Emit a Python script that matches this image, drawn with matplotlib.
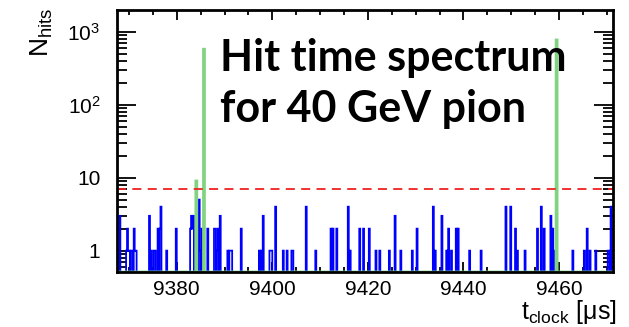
import numpy as np
import matplotlib
matplotlib.use("Agg")
import matplotlib.pyplot as plt
from matplotlib.ticker import FixedLocator, FixedFormatter, MultipleLocator, LogLocator, NullFormatter

# ---- data ----
hit_time = [9368.1, 9369.5, 9369.7, 9370.0, 9370.2, 9370.5, 9370.8, 9371.1, 9371.4, 9371.6,
            9374.4, 9374.8, 9375.3, 9375.5, 9376.2, 9376.5, 9376.7,
            9378.0, 9380.0, 9382.9, 9383.1, 9383.4, 9383.6, 9384.7, 9385.0, 9385.4, 9386.6,
            9388.0, 9388.2, 9388.5, 9388.7, 9389.2, 9390.8, 9391.1, 9391.3, 9391.5,
            9393.6, 9397.4, 9397.8, 9398.1, 9399.5, 9399.8, 9400.0, 9400.7, 9402.3, 9403.1,
            9404.1, 9404.4, 9407.2, 9409.1, 9412.4, 9412.8, 9413.6, 9415.9, 9416.3, 9418.3,
            9419.2, 9420.4, 9421.7, 9422.5, 9424.5, 9425.8, 9426.9, 9429.4, 9430.4, 9433.8,
            9434.2, 9435.5, 9436.5, 9437.0, 9437.5, 9438.6, 9438.9, 9441.4, 9443.8, 9448.9,
            9449.9, 9451.0, 9451.3, 9453.0, 9455.5, 9456.4, 9457.0, 9458.3, 9458.8, 9459.4,
            9463.0, 9465.4, 9466.0, 9466.6, 9467.7, 9470.3, 9470.6, 9471.0]
hit_count = [3, 1, 2, 1, 1, 1, 1, 2, 1, 1,
             3, 1, 1, 1, 2, 2, 4,
             1, 2, 2, 3, 2, 3, 5, 1, 2, 2,
             2, 2, 1, 2, 3, 1, 1, 1, 1,
             2, 1, 1, 3, 1, 1, 1, 4, 1, 1,
             1, 1, 4, 1, 2, 2, 2, 4, 1, 2,
             2, 2, 1, 1, 1, 3, 1, 1, 2, 4,
             1, 3, 1, 2, 1, 2, 2, 1, 1, 4,
             4, 2, 1, 1, 2, 4, 2, 3, 2, 1,
             1, 1, 2, 1, 1, 1, 1, 4]

trig_time = [9384.2, 9385.8, 9459.6]
trig_count = [9, 575, 770]

threshold = 7
x_ticks = [9380, 9400, 9420, 9440, 9460]
y_ticks = [1, 10, 100, 1000]
y_tick_labels = ["1", "10", r"$10^{2}$", r"$10^{3}$"]
title_lines = ["Hit time spectrum", "for 40 GeV pion"]

# ---- figure ----
XMIN, XMAX = 9367.5, 9471.3
YMIN, YMAX = 0.51, 1980
plt.rcParams['font.family'] = ['Liberation Sans', 'DejaVu Sans']
plt.rcParams['mathtext.fontset'] = 'custom'
plt.rcParams['mathtext.rm'] = 'Liberation Sans'
plt.rcParams['mathtext.it'] = 'Liberation Sans'

fig = plt.figure(figsize=(6.29, 3.27), dpi=100)
ax = fig.add_axes([117/629, 1-272/327, (613-117)/629, (272-10)/327])

bw = 0.2
edges = np.arange(XMIN - 0.1, XMAX + 0.3, bw)
hv, _ = np.histogram(hit_time, bins=edges, weights=hit_count)
tv, _ = np.histogram(trig_time, bins=edges, weights=trig_count)

ax.stairs(np.where(hv > 0, hv, 1e-3), edges, color='#0000ff', lw=1.3, baseline=None, zorder=3)
ax.stairs(np.where(tv > 0, tv, YMIN), edges, color='#80d480', lw=2.0, baseline=None, zorder=4)
ax.axhline(threshold, color='#ee2222', lw=1.3, ls=(0, (5, 3.5)), zorder=5)

ax.set_yscale('log')
ax.set_xlim(XMIN, XMAX)
ax.set_ylim(YMIN, YMAX)

ax.xaxis.set_major_locator(FixedLocator(x_ticks))
ax.xaxis.set_minor_locator(MultipleLocator(5))
ax.yaxis.set_major_locator(FixedLocator(y_ticks))
ax.yaxis.set_major_formatter(FixedFormatter(y_tick_labels))
ax.yaxis.set_minor_locator(LogLocator(base=10, subs=np.arange(2, 10)))
ax.yaxis.set_minor_formatter(NullFormatter())

ax.tick_params(which='both', direction='in', top=True, right=True, color='black', width=1.3)
ax.tick_params(axis='x', which='major', length=7, labelsize=15, pad=6)
ax.tick_params(axis='x', which='minor', length=3.5)
ax.tick_params(axis='y', which='major', length=14, labelsize=15, pad=12)
ax.tick_params(axis='y', which='minor', length=7)
for s in ax.spines.values():
    s.set_linewidth(2)
    s.set_zorder(10)

fig.text(617/629, 1-319/327, r"t$_{\rm clock}$ [μs]", fontsize=18, ha='right', va='baseline')
fig.text(42/629, 1-8/327, r"N$_{\rm hits}$", fontsize=19, ha='center', va='top', rotation=90)

ax.text(220/629, 1-58/327, title_lines[0], transform=fig.transFigure, fontsize=31,
        fontweight='bold', family=['Lato', 'DejaVu Sans'], va='center', ha='left', zorder=20)
ax.text(220/629, 1-109/327, title_lines[1], transform=fig.transFigure, fontsize=31,
        fontweight='bold', family=['Lato', 'DejaVu Sans'], va='center', ha='left', zorder=20)

fig.savefig("out.png", dpi=100)
